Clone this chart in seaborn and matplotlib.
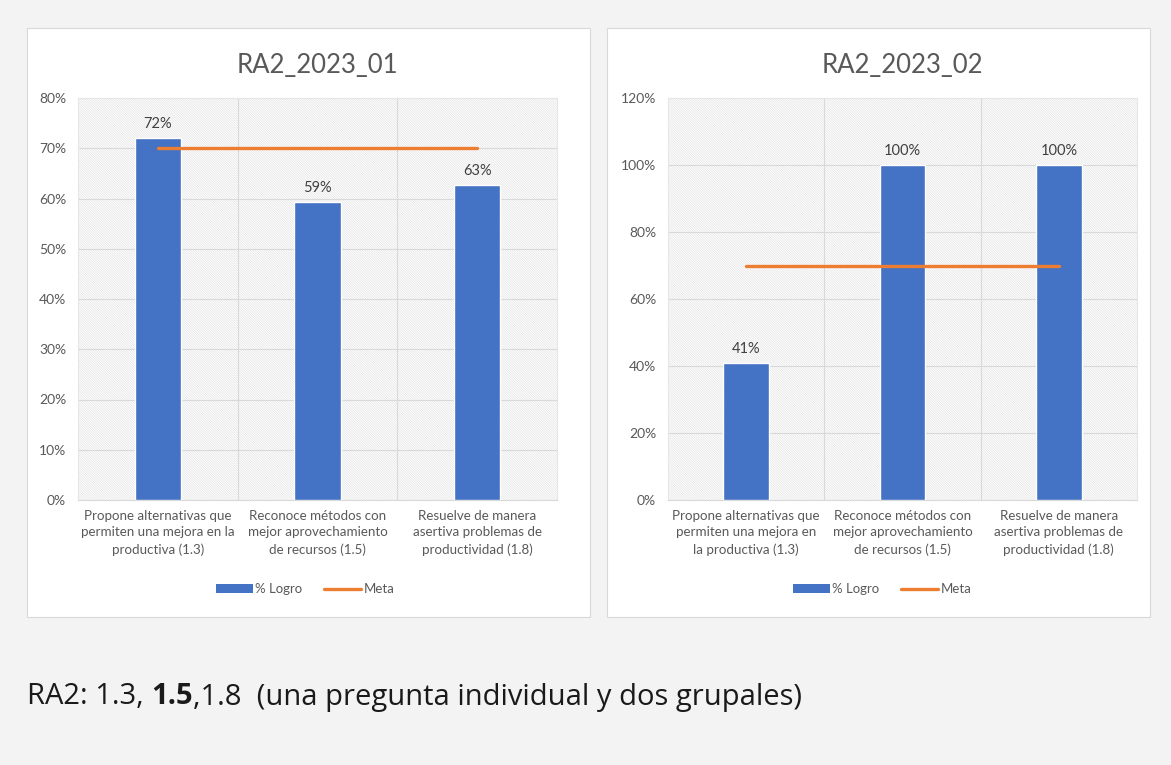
import matplotlib
matplotlib.use("Agg")
import matplotlib.pyplot as plt
import seaborn as sns
import pandas as pd
from matplotlib.patches import Rectangle
from matplotlib.lines import Line2D
from matplotlib.patches import Patch

sns.set_style("white")
plt.rcParams['font.family'] = ['Lato', 'DejaVu Sans']
plt.rcParams['hatch.linewidth'] = 0.5
plt.rcParams['hatch.color'] = '#e3e3e3'

# ---- data ----
cats_01 = ["Propone alternativas que\npermiten una mejora en la\nproductiva (1.3)",
           "Reconoce métodos con\nmejor aprovechamiento\nde recursos (1.5)",
           "Resuelve de manera\nasertiva problemas de\nproductividad (1.8)"]
cats_02 = ["Propone alternativas que\npermiten una mejora en\nla productiva (1.3)",
           "Reconoce métodos con\nmejor aprovechamiento\nde recursos (1.5)",
           "Resuelve de manera\nasertiva problemas de\nproductividad (1.8)"]
logro_01 = [0.72, 0.593, 0.627]
logro_02 = [0.41, 1.00, 1.00]
meta_01 = [0.70, 0.70, 0.70]
meta_02 = [0.70, 0.70, 0.70]
titles = ["RA2_2023_01", "RA2_2023_02"]
yticks_01 = [0, 0.1, 0.2, 0.3, 0.4, 0.5, 0.6, 0.7, 0.8]
yticks_02 = [0, 0.2, 0.4, 0.6, 0.8, 1.0, 1.2]

BLUE = "#4472C4"
ORANGE = "#ED7D31"
GRAY = "#595959"
GRID = "#d9d9d9"

fig = plt.figure(figsize=(11.71, 7.65), dpi=100)
fig.patch.set_facecolor("#f3f3f3")

# white panels
for (x0, w) in [(27 / 1171, 563 / 1171), (607 / 1171, 543 / 1171)]:
    fig.patches.append(Rectangle((x0, 148 / 765), w, 589 / 765, transform=fig.transFigure,
                                 facecolor="white", edgecolor="#d9d9d9", lw=0.8, zorder=-10))

ax1 = fig.add_axes([78 / 1171, 265 / 765, 479 / 1171, 402 / 765])
ax2 = fig.add_axes([668 / 1171, 265 / 765, 469 / 1171, 402 / 765])

panels = [(ax1, cats_01, logro_01, meta_01, yticks_01, titles[0], 305 / 1171),
          (ax2, cats_02, logro_02, meta_02, yticks_02, titles[1], 882 / 1171)]

for ax, cats, logro, meta, yt, title, lx in panels:
    df = pd.DataFrame({"cat": cats, "logro": logro})
    ax.set_facecolor("white")
    ax.add_patch(Rectangle((0, 0), 1, 1, transform=ax.transAxes, facecolor="white",
                           edgecolor="#e3e3e3", hatch="\\" * 14, lw=0, zorder=0))
    sns.barplot(data=df, x="cat", y="logro", color=BLUE, width=0.29, saturation=1,
                ax=ax, zorder=3)
    sns.lineplot(x=[0, 1, 2], y=meta, color=ORANGE, lw=2.4, ax=ax, zorder=4)
    ax.set_xlim(-0.5, 2.5)
    ax.set_ylim(yt[0], yt[-1])
    ax.set_yticks(yt)
    ax.set_yticklabels([f"{v:.0%}" for v in yt], fontsize=10, color=GRAY)
    ax.set_xticks(range(3))
    ax.set_xticklabels(cats, fontsize=9.6, color=GRAY, linespacing=1.45)
    ax.tick_params(length=0)
    ax.tick_params(axis="y", pad=8.5)
    ax.tick_params(axis="x", pad=7)
    for v in yt:
        ax.axhline(v, color=GRID, lw=0.8, zorder=1)
    for v in [0.5, 1.5]:
        ax.axvline(v, color=GRID, lw=0.8, zorder=1)
    for s in ["top", "right", "left"]:
        ax.spines[s].set_color("#e6e6e6")
        ax.spines[s].set_linewidth(0.8)
    ax.spines["bottom"].set_color(GRID)
    ax.set_xlabel("")
    ax.set_ylabel("")
    for i, v in enumerate(logro):
        ax.annotate(f"{v:.0%}", (i, v), xytext=(0, 5), textcoords="offset points",
                    ha="center", va="bottom", fontsize=10.5, color="#404040")
    ax.set_title(title, fontsize=18.5, color=GRAY, pad=18)
    handles = [Patch(facecolor=BLUE, edgecolor="none"),
               Line2D([0], [0], color=ORANGE, lw=2.4)]
    fig.legend(handles, ["% Logro", "Meta"], loc="center", bbox_to_anchor=(lx, 1 - 589 / 765),
               ncol=2, frameon=False, fontsize=9.5, labelcolor=GRAY, handlelength=2.8,
               handleheight=0.6, handletextpad=0.2, columnspacing=1.6)

# bottom text with bold part
y_txt = 1 - 697 / 765
pieces = [("RA2: 1.3, ", "normal"), ("1.5", "bold"), (",1.8  (una pregunta individual y dos grupales)", "normal")]
fig.canvas.draw()
renderer = fig.canvas.get_renderer()
x = 27 / 1171
for txt, wgt in pieces:
    t = fig.text(x, y_txt, txt, fontsize=21, fontweight=wgt, color="#1a1a1a",
                 va="center", ha="left", family=["Open Sans", "DejaVu Sans"])
    bb = t.get_window_extent(renderer=renderer)
    x += bb.width / fig.bbox.width

fig.savefig("out.png", dpi=100, facecolor=fig.get_facecolor())
